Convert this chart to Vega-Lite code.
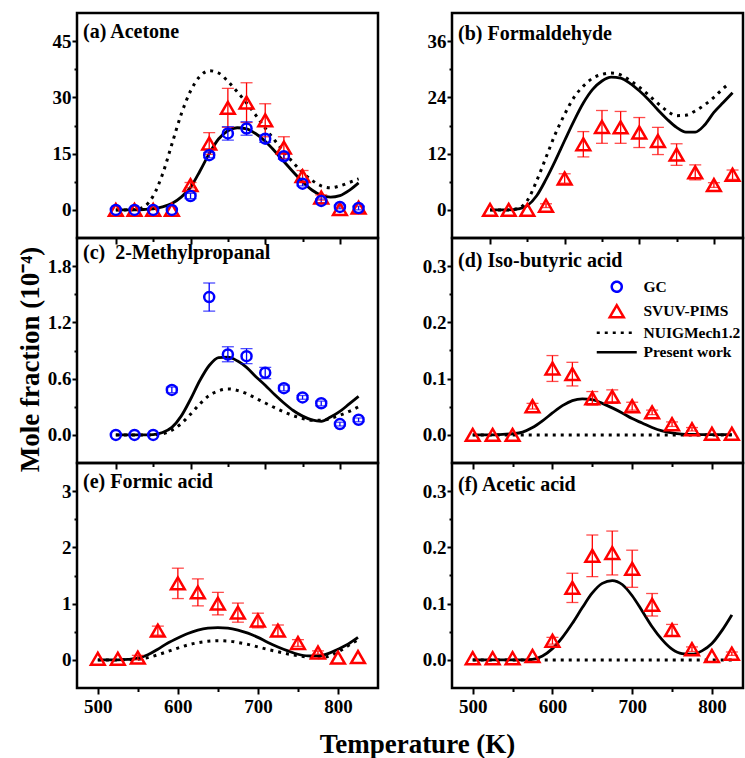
{
"$schema": "https://vega.github.io/schema/vega-lite/v6.json",
"background": "white",
"padding": {"left": 14, "top": 11, "right": 0, "bottom": 0},
"config": {
  "font": "Liberation Serif",
  "view": {"stroke": "black", "strokeWidth": 2.5},
  "axis": {"domain": false, "grid": false, "tickColor": "black", "tickWidth": 2, "labelFont": "Liberation Serif", "labelFontSize": 19, "labelFontWeight": "bold", "labelColor": "black", "labelPadding": 1, "labelFlush": false, "labelOverlap": false, "titleFont": "Liberation Serif", "titleFontSize": 27, "titleFontWeight": "bold", "titleColor": "black"},
  "axisX": {"labelPadding": 3},
  "title": {"font": "Liberation Serif", "fontSize": 20, "fontWeight": "bold", "color": "black", "anchor": "start", "frame": "group", "offset": 0, "dx": 6, "baseline": "alphabetic"},
  "legend": {"labelLimit": 300}
},
"datasets": {
  "leg": [{"s": "GC"}, {"s": "SVUV-PIMS"}, {"s": "NUIGMech1.2"}, {"s": "Present work"}],
  "exp": [
    {"p":"a","k":"S","T":500,"v":0},{"p":"a","k":"S","T":525,"v":0},{"p":"a","k":"S","T":550,"v":0},{"p":"a","k":"S","T":575,"v":0},
    {"p":"a","k":"S","T":600,"v":6.6,"lo":5.9,"hi":7.3},{"p":"a","k":"S","T":625,"v":17.7,"lo":14.8,"hi":20.6},
    {"p":"a","k":"S","T":650,"v":27.2,"lo":22.0,"hi":32.4},{"p":"a","k":"S","T":675,"v":28.6,"lo":23.3,"hi":33.9},
    {"p":"a","k":"S","T":700,"v":23.9,"lo":19.5,"hi":28.3},{"p":"a","k":"S","T":725,"v":16.6,"lo":13.7,"hi":19.5},
    {"p":"a","k":"S","T":750,"v":9.0,"lo":7.5,"hi":10.5},{"p":"a","k":"S","T":775,"v":3.3,"lo":2.6,"hi":4.0},
    {"p":"a","k":"S","T":800,"v":0.2},{"p":"a","k":"S","T":825,"v":0.6},
    {"p":"a","k":"G","T":500,"v":0},{"p":"a","k":"G","T":525,"v":0},{"p":"a","k":"G","T":550,"v":0},{"p":"a","k":"G","T":575,"v":0},
    {"p":"a","k":"G","T":600,"v":3.7,"lo":3.0,"hi":4.4},{"p":"a","k":"G","T":625,"v":14.6,"lo":13.9,"hi":15.3},
    {"p":"a","k":"G","T":650,"v":20.4,"lo":18.6,"hi":22.2},{"p":"a","k":"G","T":675,"v":21.7,"lo":19.9,"hi":23.5},
    {"p":"a","k":"G","T":700,"v":19.0,"lo":18.0,"hi":20.0},{"p":"a","k":"G","T":725,"v":14.3,"lo":13.5,"hi":15.1},
    {"p":"a","k":"G","T":750,"v":7.0,"lo":6.4,"hi":7.6},{"p":"a","k":"G","T":775,"v":2.4,"lo":1.9,"hi":2.9},
    {"p":"a","k":"G","T":800,"v":0.8,"lo":0.3,"hi":1.3},{"p":"a","k":"G","T":825,"v":0.5,"lo":0.0,"hi":1.0},

    {"p":"b","k":"S","T":500,"v":0},{"p":"b","k":"S","T":525,"v":0},{"p":"b","k":"S","T":550,"v":0},
    {"p":"b","k":"S","T":575,"v":0.9,"lo":0.5,"hi":1.3},{"p":"b","k":"S","T":600,"v":6.7,"lo":5.7,"hi":7.7},
    {"p":"b","k":"S","T":625,"v":14.0,"lo":11.3,"hi":16.7},{"p":"b","k":"S","T":650,"v":17.7,"lo":14.2,"hi":21.2},
    {"p":"b","k":"S","T":675,"v":17.6,"lo":14.2,"hi":21.0},{"p":"b","k":"S","T":700,"v":16.5,"lo":13.3,"hi":19.7},
    {"p":"b","k":"S","T":725,"v":14.7,"lo":11.8,"hi":17.6},{"p":"b","k":"S","T":750,"v":11.8,"lo":9.5,"hi":14.1},
    {"p":"b","k":"S","T":775,"v":8.0,"lo":6.4,"hi":9.6},{"p":"b","k":"S","T":800,"v":5.3,"lo":4.8,"hi":5.8},
    {"p":"b","k":"S","T":825,"v":7.5,"lo":6.5,"hi":8.5},

    {"p":"c","k":"G","T":500,"v":0},{"p":"c","k":"G","T":525,"v":0},{"p":"c","k":"G","T":550,"v":0},
    {"p":"c","k":"G","T":575,"v":0.48,"lo":0.45,"hi":0.51},{"p":"c","k":"G","T":625,"v":1.47,"lo":1.32,"hi":1.62},
    {"p":"c","k":"G","T":650,"v":0.857,"lo":0.78,"hi":0.94},{"p":"c","k":"G","T":675,"v":0.84,"lo":0.76,"hi":0.92},
    {"p":"c","k":"G","T":700,"v":0.663,"lo":0.6,"hi":0.72},{"p":"c","k":"G","T":725,"v":0.498,"lo":0.47,"hi":0.53},
    {"p":"c","k":"G","T":750,"v":0.40,"lo":0.38,"hi":0.42},{"p":"c","k":"G","T":775,"v":0.337,"lo":0.31,"hi":0.36},
    {"p":"c","k":"G","T":800,"v":0.115,"lo":0.095,"hi":0.135},{"p":"c","k":"G","T":825,"v":0.161,"lo":0.14,"hi":0.18},

    {"p":"d","k":"S","T":500,"v":0},{"p":"d","k":"S","T":525,"v":0},{"p":"d","k":"S","T":550,"v":0},
    {"p":"d","k":"S","T":575,"v":0.051,"lo":0.046,"hi":0.056},{"p":"d","k":"S","T":600,"v":0.118,"lo":0.095,"hi":0.141},
    {"p":"d","k":"S","T":625,"v":0.108,"lo":0.087,"hi":0.129},{"p":"d","k":"S","T":650,"v":0.065,"lo":0.053,"hi":0.077},
    {"p":"d","k":"S","T":675,"v":0.068,"lo":0.056,"hi":0.08},{"p":"d","k":"S","T":700,"v":0.051,"lo":0.044,"hi":0.058},
    {"p":"d","k":"S","T":725,"v":0.04,"lo":0.036,"hi":0.044},{"p":"d","k":"S","T":750,"v":0.019,"lo":0.015,"hi":0.023},
    {"p":"d","k":"S","T":775,"v":0.01,"lo":0.007,"hi":0.013},{"p":"d","k":"S","T":800,"v":0.002},{"p":"d","k":"S","T":825,"v":0.002},

    {"p":"e","k":"S","T":500,"v":0.02},{"p":"e","k":"S","T":525,"v":0.02},{"p":"e","k":"S","T":550,"v":0.04,"lo":0.0,"hi":0.08},
    {"p":"e","k":"S","T":575,"v":0.52,"lo":0.44,"hi":0.6},{"p":"e","k":"S","T":600,"v":1.36,"lo":1.09,"hi":1.63},
    {"p":"e","k":"S","T":625,"v":1.2,"lo":0.96,"hi":1.44},{"p":"e","k":"S","T":650,"v":1.0,"lo":0.8,"hi":1.2},
    {"p":"e","k":"S","T":675,"v":0.84,"lo":0.67,"hi":1.01},{"p":"e","k":"S","T":700,"v":0.7,"lo":0.57,"hi":0.83},
    {"p":"e","k":"S","T":725,"v":0.52,"lo":0.42,"hi":0.62},{"p":"e","k":"S","T":750,"v":0.3,"lo":0.24,"hi":0.36},
    {"p":"e","k":"S","T":775,"v":0.13,"lo":0.1,"hi":0.16},{"p":"e","k":"S","T":800,"v":0.04},{"p":"e","k":"S","T":825,"v":0.05},

    {"p":"f","k":"S","T":500,"v":0.003},{"p":"f","k":"S","T":525,"v":0.003},{"p":"f","k":"S","T":550,"v":0.003},
    {"p":"f","k":"S","T":575,"v":0.007},{"p":"f","k":"S","T":600,"v":0.034,"lo":0.028,"hi":0.04},
    {"p":"f","k":"S","T":625,"v":0.128,"lo":0.102,"hi":0.154},{"p":"f","k":"S","T":650,"v":0.185,"lo":0.148,"hi":0.222},
    {"p":"f","k":"S","T":675,"v":0.19,"lo":0.151,"hi":0.229},{"p":"f","k":"S","T":700,"v":0.162,"lo":0.129,"hi":0.195},
    {"p":"f","k":"S","T":725,"v":0.098,"lo":0.078,"hi":0.118},{"p":"f","k":"S","T":750,"v":0.053,"lo":0.043,"hi":0.063},
    {"p":"f","k":"S","T":775,"v":0.019,"lo":0.015,"hi":0.023},{"p":"f","k":"S","T":800,"v":0.007},
    {"p":"f","k":"S","T":825,"v":0.011,"lo":0.008,"hi":0.014}
  ],
  "lines": [
    {"p":"a","m":"P","T":500,"v":0},{"p":"a","m":"P","T":512.5,"v":0},{"p":"a","m":"P","T":525,"v":0},{"p":"a","m":"P","T":537.5,"v":0.1},
    {"p":"a","m":"P","T":550,"v":0.3},{"p":"a","m":"P","T":562.5,"v":0.8},{"p":"a","m":"P","T":575,"v":1.7},{"p":"a","m":"P","T":587.5,"v":3.4},
    {"p":"a","m":"P","T":600,"v":6.0},{"p":"a","m":"P","T":612.5,"v":10.3},{"p":"a","m":"P","T":625,"v":15.0},{"p":"a","m":"P","T":637.5,"v":18.9},
    {"p":"a","m":"P","T":650,"v":21.1},{"p":"a","m":"P","T":662.5,"v":21.9},{"p":"a","m":"P","T":675,"v":21.6},{"p":"a","m":"P","T":687.5,"v":20.3},
    {"p":"a","m":"P","T":700,"v":18.3},{"p":"a","m":"P","T":712.5,"v":15.7},{"p":"a","m":"P","T":725,"v":12.9},{"p":"a","m":"P","T":737.5,"v":10.1},
    {"p":"a","m":"P","T":750,"v":7.5},{"p":"a","m":"P","T":762.5,"v":5.3},{"p":"a","m":"P","T":775,"v":3.9},{"p":"a","m":"P","T":787.5,"v":3.4},
    {"p":"a","m":"P","T":800,"v":3.8},{"p":"a","m":"P","T":812.5,"v":5.2},{"p":"a","m":"P","T":825,"v":7.2},

    {"p":"a","m":"N","T":500,"v":0},{"p":"a","m":"N","T":512.5,"v":0},{"p":"a","m":"N","T":525,"v":0.1},{"p":"a","m":"N","T":537.5,"v":0.8},
    {"p":"a","m":"N","T":550,"v":3.7},{"p":"a","m":"N","T":562.5,"v":9.5},{"p":"a","m":"N","T":575,"v":17.5},{"p":"a","m":"N","T":587.5,"v":25.5},
    {"p":"a","m":"N","T":600,"v":31.7},{"p":"a","m":"N","T":612.5,"v":35.6},{"p":"a","m":"N","T":625,"v":37.1},{"p":"a","m":"N","T":637.5,"v":36.5},
    {"p":"a","m":"N","T":650,"v":34.3},{"p":"a","m":"N","T":662.5,"v":31.5},{"p":"a","m":"N","T":675,"v":28.5},{"p":"a","m":"N","T":687.5,"v":25.2},
    {"p":"a","m":"N","T":700,"v":21.8},{"p":"a","m":"N","T":712.5,"v":18.6},{"p":"a","m":"N","T":725,"v":15.5},{"p":"a","m":"N","T":737.5,"v":12.6},
    {"p":"a","m":"N","T":750,"v":10.0},{"p":"a","m":"N","T":762.5,"v":7.9},{"p":"a","m":"N","T":775,"v":6.4},{"p":"a","m":"N","T":787.5,"v":5.9},
    {"p":"a","m":"N","T":800,"v":6.4},{"p":"a","m":"N","T":812.5,"v":7.3},{"p":"a","m":"N","T":825,"v":8.3},

    {"p":"b","m":"P","T":500,"v":0},{"p":"b","m":"P","T":512.5,"v":0},{"p":"b","m":"P","T":525,"v":0},{"p":"b","m":"P","T":537.5,"v":0.2},
    {"p":"b","m":"P","T":550,"v":0.9},{"p":"b","m":"P","T":562.5,"v":3.0},{"p":"b","m":"P","T":575,"v":6.5},{"p":"b","m":"P","T":587.5,"v":10.5},
    {"p":"b","m":"P","T":600,"v":14.8},{"p":"b","m":"P","T":612.5,"v":19.0},{"p":"b","m":"P","T":625,"v":22.8},{"p":"b","m":"P","T":637.5,"v":25.7},
    {"p":"b","m":"P","T":650,"v":27.5},{"p":"b","m":"P","T":662.5,"v":28.3},{"p":"b","m":"P","T":675,"v":28.1},{"p":"b","m":"P","T":687.5,"v":27.0},
    {"p":"b","m":"P","T":700,"v":25.4},{"p":"b","m":"P","T":712.5,"v":23.5},{"p":"b","m":"P","T":725,"v":21.3},{"p":"b","m":"P","T":737.5,"v":19.3},
    {"p":"b","m":"P","T":750,"v":17.6},{"p":"b","m":"P","T":762.5,"v":16.6},{"p":"b","m":"P","T":775,"v":16.6},{"p":"b","m":"P","T":787.5,"v":18.1},
    {"p":"b","m":"P","T":800,"v":20.8},{"p":"b","m":"P","T":812.5,"v":22.9},{"p":"b","m":"P","T":825,"v":25.0},

    {"p":"b","m":"N","T":500,"v":0},{"p":"b","m":"N","T":512.5,"v":0},{"p":"b","m":"N","T":525,"v":0},{"p":"b","m":"N","T":537.5,"v":0.3},
    {"p":"b","m":"N","T":550,"v":2.0},{"p":"b","m":"N","T":562.5,"v":6.2},{"p":"b","m":"N","T":575,"v":11.2},{"p":"b","m":"N","T":587.5,"v":16.2},
    {"p":"b","m":"N","T":600,"v":20.4},{"p":"b","m":"N","T":612.5,"v":24.0},{"p":"b","m":"N","T":625,"v":26.4},{"p":"b","m":"N","T":637.5,"v":28.1},
    {"p":"b","m":"N","T":650,"v":28.9},{"p":"b","m":"N","T":662.5,"v":29.2},{"p":"b","m":"N","T":675,"v":28.8},{"p":"b","m":"N","T":687.5,"v":27.6},
    {"p":"b","m":"N","T":700,"v":26.2},{"p":"b","m":"N","T":712.5,"v":24.5},{"p":"b","m":"N","T":725,"v":22.7},{"p":"b","m":"N","T":737.5,"v":21.1},
    {"p":"b","m":"N","T":750,"v":20.1},{"p":"b","m":"N","T":762.5,"v":20.2},{"p":"b","m":"N","T":775,"v":21.1},{"p":"b","m":"N","T":787.5,"v":22.4},
    {"p":"b","m":"N","T":800,"v":24.0},{"p":"b","m":"N","T":812.5,"v":25.9},{"p":"b","m":"N","T":820,"v":26.9},

    {"p":"c","m":"P","T":500,"v":0},{"p":"c","m":"P","T":512.5,"v":0},{"p":"c","m":"P","T":525,"v":0},{"p":"c","m":"P","T":537.5,"v":0},
    {"p":"c","m":"P","T":550,"v":0.003},{"p":"c","m":"P","T":562.5,"v":0.025},{"p":"c","m":"P","T":575,"v":0.08},{"p":"c","m":"P","T":587.5,"v":0.2},
    {"p":"c","m":"P","T":600,"v":0.38},{"p":"c","m":"P","T":612.5,"v":0.58},{"p":"c","m":"P","T":625,"v":0.74},{"p":"c","m":"P","T":637.5,"v":0.825},
    {"p":"c","m":"P","T":650,"v":0.83},{"p":"c","m":"P","T":662.5,"v":0.79},{"p":"c","m":"P","T":675,"v":0.72},{"p":"c","m":"P","T":687.5,"v":0.62},
    {"p":"c","m":"P","T":700,"v":0.53},{"p":"c","m":"P","T":712.5,"v":0.43},{"p":"c","m":"P","T":725,"v":0.34},{"p":"c","m":"P","T":737.5,"v":0.26},
    {"p":"c","m":"P","T":750,"v":0.2},{"p":"c","m":"P","T":762.5,"v":0.16},{"p":"c","m":"P","T":775,"v":0.145},{"p":"c","m":"P","T":787.5,"v":0.19},
    {"p":"c","m":"P","T":800,"v":0.25},{"p":"c","m":"P","T":812.5,"v":0.33},{"p":"c","m":"P","T":825,"v":0.41},

    {"p":"c","m":"N","T":500,"v":0},{"p":"c","m":"N","T":512.5,"v":0},{"p":"c","m":"N","T":525,"v":0},{"p":"c","m":"N","T":537.5,"v":0},
    {"p":"c","m":"N","T":550,"v":0},{"p":"c","m":"N","T":562.5,"v":0.01},{"p":"c","m":"N","T":575,"v":0.05},{"p":"c","m":"N","T":587.5,"v":0.12},
    {"p":"c","m":"N","T":600,"v":0.22},{"p":"c","m":"N","T":612.5,"v":0.33},{"p":"c","m":"N","T":625,"v":0.42},{"p":"c","m":"N","T":637.5,"v":0.47},
    {"p":"c","m":"N","T":650,"v":0.49},{"p":"c","m":"N","T":662.5,"v":0.475},{"p":"c","m":"N","T":675,"v":0.44},{"p":"c","m":"N","T":687.5,"v":0.39},
    {"p":"c","m":"N","T":700,"v":0.34},{"p":"c","m":"N","T":712.5,"v":0.29},{"p":"c","m":"N","T":725,"v":0.245},{"p":"c","m":"N","T":737.5,"v":0.205},
    {"p":"c","m":"N","T":750,"v":0.175},{"p":"c","m":"N","T":762.5,"v":0.155},{"p":"c","m":"N","T":775,"v":0.155},{"p":"c","m":"N","T":787.5,"v":0.175},
    {"p":"c","m":"N","T":800,"v":0.21},{"p":"c","m":"N","T":812.5,"v":0.25},{"p":"c","m":"N","T":825,"v":0.3},

    {"p":"d","m":"P","T":500,"v":0},{"p":"d","m":"P","T":512.5,"v":0},{"p":"d","m":"P","T":525,"v":0},{"p":"d","m":"P","T":537.5,"v":0.001},
    {"p":"d","m":"P","T":550,"v":0.002},{"p":"d","m":"P","T":562.5,"v":0.005},{"p":"d","m":"P","T":575,"v":0.013},{"p":"d","m":"P","T":587.5,"v":0.025},
    {"p":"d","m":"P","T":600,"v":0.039},{"p":"d","m":"P","T":612.5,"v":0.052},{"p":"d","m":"P","T":625,"v":0.061},{"p":"d","m":"P","T":637.5,"v":0.064},
    {"p":"d","m":"P","T":650,"v":0.0625},{"p":"d","m":"P","T":662.5,"v":0.056},{"p":"d","m":"P","T":675,"v":0.048},{"p":"d","m":"P","T":687.5,"v":0.039},
    {"p":"d","m":"P","T":700,"v":0.029},{"p":"d","m":"P","T":712.5,"v":0.021},{"p":"d","m":"P","T":725,"v":0.013},{"p":"d","m":"P","T":737.5,"v":0.007},
    {"p":"d","m":"P","T":750,"v":0.0035},{"p":"d","m":"P","T":762.5,"v":0.0015},{"p":"d","m":"P","T":775,"v":0.0008},{"p":"d","m":"P","T":787.5,"v":0.0005},
    {"p":"d","m":"P","T":800,"v":0.0004},{"p":"d","m":"P","T":812.5,"v":0.0003},{"p":"d","m":"P","T":825,"v":0.0003},

    {"p":"d","m":"N","T":500,"v":0},{"p":"d","m":"N","T":600,"v":0},{"p":"d","m":"N","T":700,"v":0},{"p":"d","m":"N","T":825,"v":0},

    {"p":"e","m":"P","T":500,"v":0},{"p":"e","m":"P","T":512.5,"v":0},{"p":"e","m":"P","T":525,"v":0},{"p":"e","m":"P","T":537.5,"v":0.008},
    {"p":"e","m":"P","T":550,"v":0.03},{"p":"e","m":"P","T":562.5,"v":0.09},{"p":"e","m":"P","T":575,"v":0.19},{"p":"e","m":"P","T":587.5,"v":0.3},
    {"p":"e","m":"P","T":600,"v":0.39},{"p":"e","m":"P","T":612.5,"v":0.47},{"p":"e","m":"P","T":625,"v":0.53},{"p":"e","m":"P","T":637.5,"v":0.565},
    {"p":"e","m":"P","T":650,"v":0.575},{"p":"e","m":"P","T":662.5,"v":0.565},{"p":"e","m":"P","T":675,"v":0.53},{"p":"e","m":"P","T":687.5,"v":0.475},
    {"p":"e","m":"P","T":700,"v":0.4},{"p":"e","m":"P","T":712.5,"v":0.31},{"p":"e","m":"P","T":725,"v":0.23},{"p":"e","m":"P","T":737.5,"v":0.16},
    {"p":"e","m":"P","T":750,"v":0.1},{"p":"e","m":"P","T":762.5,"v":0.07},{"p":"e","m":"P","T":775,"v":0.07},{"p":"e","m":"P","T":787.5,"v":0.11},
    {"p":"e","m":"P","T":800,"v":0.19},{"p":"e","m":"P","T":812.5,"v":0.28},{"p":"e","m":"P","T":825,"v":0.4},

    {"p":"e","m":"N","T":500,"v":0},{"p":"e","m":"N","T":512.5,"v":0},{"p":"e","m":"N","T":525,"v":0},{"p":"e","m":"N","T":537.5,"v":0.003},
    {"p":"e","m":"N","T":550,"v":0.012},{"p":"e","m":"N","T":562.5,"v":0.04},{"p":"e","m":"N","T":575,"v":0.09},{"p":"e","m":"N","T":587.5,"v":0.15},
    {"p":"e","m":"N","T":600,"v":0.21},{"p":"e","m":"N","T":612.5,"v":0.265},{"p":"e","m":"N","T":625,"v":0.305},{"p":"e","m":"N","T":637.5,"v":0.33},
    {"p":"e","m":"N","T":650,"v":0.34},{"p":"e","m":"N","T":662.5,"v":0.335},{"p":"e","m":"N","T":675,"v":0.31},{"p":"e","m":"N","T":687.5,"v":0.275},
    {"p":"e","m":"N","T":700,"v":0.23},{"p":"e","m":"N","T":712.5,"v":0.185},{"p":"e","m":"N","T":725,"v":0.145},{"p":"e","m":"N","T":737.5,"v":0.105},
    {"p":"e","m":"N","T":750,"v":0.075},{"p":"e","m":"N","T":762.5,"v":0.05},{"p":"e","m":"N","T":775,"v":0.04},{"p":"e","m":"N","T":787.5,"v":0.06},
    {"p":"e","m":"N","T":800,"v":0.14},{"p":"e","m":"N","T":812.5,"v":0.25},{"p":"e","m":"N","T":825,"v":0.36},

    {"p":"f","m":"P","T":500,"v":0},{"p":"f","m":"P","T":512.5,"v":0},{"p":"f","m":"P","T":525,"v":0},{"p":"f","m":"P","T":537.5,"v":0},
    {"p":"f","m":"P","T":550,"v":0},{"p":"f","m":"P","T":562.5,"v":0},{"p":"f","m":"P","T":575,"v":0.001},{"p":"f","m":"P","T":587.5,"v":0.007},
    {"p":"f","m":"P","T":600,"v":0.02},{"p":"f","m":"P","T":612.5,"v":0.04},{"p":"f","m":"P","T":625,"v":0.065},{"p":"f","m":"P","T":637.5,"v":0.093},
    {"p":"f","m":"P","T":650,"v":0.119},{"p":"f","m":"P","T":662.5,"v":0.136},{"p":"f","m":"P","T":675,"v":0.141},{"p":"f","m":"P","T":687.5,"v":0.134},
    {"p":"f","m":"P","T":700,"v":0.114},{"p":"f","m":"P","T":712.5,"v":0.087},{"p":"f","m":"P","T":725,"v":0.059},{"p":"f","m":"P","T":737.5,"v":0.036},
    {"p":"f","m":"P","T":750,"v":0.019},{"p":"f","m":"P","T":762.5,"v":0.011},{"p":"f","m":"P","T":775,"v":0.01},{"p":"f","m":"P","T":787.5,"v":0.016},
    {"p":"f","m":"P","T":800,"v":0.029},{"p":"f","m":"P","T":812.5,"v":0.052},{"p":"f","m":"P","T":825,"v":0.08},

    {"p":"f","m":"N","T":500,"v":0},{"p":"f","m":"N","T":600,"v":0},{"p":"f","m":"N","T":700,"v":0},{"p":"f","m":"N","T":825,"v":0}
  ]
},
"columns": 2,
"spacing": {"row": 0, "column": 74},
"bounds": "flush",
"align": "each",
"resolve": {"scale": {"color": "independent", "shape": "independent", "strokeDash": "independent"}},
"concat": [
{
  "width": 301, "height": 225,
  "title": {"text": "(a) Acetone", "dy": 33},
  "resolve": {"axis": {"x": "independent", "y": "independent"}},
  "encoding": {
    "x": {"field": "T", "type": "quantitative", "scale": {"domain": [448, 851], "nice": false, "zero": false}, "axis": null},
    "y": {"field": "v", "type": "quantitative", "scale": {"domain": [-7.5, 52.5], "nice": false, "zero": false}, "axis": null}
  },
  "layer": [
    {"data": {"name": "lines"}, "transform": [{"filter": "datum.p=='a' && datum.m=='N'"}],
     "mark": {"type": "line", "interpolate": "monotone", "color": "black", "strokeWidth": 3, "strokeDash": [3, 5]},
     "encoding": {
       "x": {"field": "T", "type": "quantitative", "scale": {"domain": [448, 851], "nice": false, "zero": false}, "axis": {"values": [550, 650, 750], "labels": false, "tickSize": 3.5, "orient": "bottom", "title": null}},
       "y": {"field": "v", "type": "quantitative", "scale": {"domain": [-7.5, 52.5], "nice": false, "zero": false}, "axis": {"values": [7.5, 22.5, 37.5], "labels": false, "tickSize": 3, "orient": "left", "title": null}}}},
    {"data": {"name": "lines"}, "transform": [{"filter": "datum.p=='a' && datum.m=='P'"}],
     "mark": {"type": "line", "interpolate": "monotone", "color": "black", "strokeWidth": 2.8},
     "encoding": {
       "x": {"field": "T", "type": "quantitative", "scale": {"domain": [448, 851], "nice": false, "zero": false}, "axis": {"values": [500, 600, 700, 800], "labels": false, "tickSize": 6, "orient": "bottom", "title": null}},
       "y": {"field": "v", "type": "quantitative", "scale": {"domain": [-7.5, 52.5], "nice": false, "zero": false}, "axis": {"values": [0, 15, 30, 45], "format": "d", "tickSize": 5, "orient": "left", "title": null}}}},
    {"data": {"name": "exp"}, "transform": [{"filter": "datum.p=='a' && isValid(datum.lo)"}],
     "mark": {"type": "rule", "strokeWidth": 1.3},
     "encoding": {"y": {"field": "lo", "type": "quantitative", "scale": {"domain": [-7.5, 52.5], "nice": false, "zero": false}, "axis": null}, "y2": {"field": "hi"},
       "color": {"condition": {"test": "datum.k=='G'", "value": "#0000ff"}, "value": "#ff0000"}}},
    {"data": {"name": "exp"}, "transform": [{"filter": "datum.p=='a' && isValid(datum.lo)"}],
     "mark": {"type": "tick", "orient": "horizontal", "size": 12, "thickness": 1.3},
     "encoding": {"y": {"field": "lo", "type": "quantitative", "scale": {"domain": [-7.5, 52.5], "nice": false, "zero": false}, "axis": null},
       "color": {"condition": {"test": "datum.k=='G'", "value": "#0000ff"}, "value": "#ff0000"}}},
    {"data": {"name": "exp"}, "transform": [{"filter": "datum.p=='a' && isValid(datum.hi)"}],
     "mark": {"type": "tick", "orient": "horizontal", "size": 12, "thickness": 1.3},
     "encoding": {"y": {"field": "hi", "type": "quantitative", "scale": {"domain": [-7.5, 52.5], "nice": false, "zero": false}, "axis": null},
       "color": {"condition": {"test": "datum.k=='G'", "value": "#0000ff"}, "value": "#ff0000"}}},
    {"data": {"name": "exp"}, "transform": [{"filter": "datum.p=='a'"}],
     "mark": {"type": "point", "filled": false, "strokeWidth": 2.5, "opacity": 1},
     "encoding": {
       "color": {"condition": {"test": "datum.k=='G'", "value": "#0000ff"}, "value": "#ff0000"},
       "shape": {"condition": {"test": "datum.k=='G'", "value": "circle"}, "value": "triangle-up"},
       "size": {"condition": {"test": "datum.k=='G'", "value": 100}, "value": 190}}}
  ]
},
{
  "width": 291, "height": 225,
  "title": {"text": "(b) Formaldehyde", "dy": 35},
  "resolve": {"axis": {"x": "independent", "y": "independent"}},
  "encoding": {
    "x": {"field": "T", "type": "quantitative", "scale": {"domain": [449, 839], "nice": false, "zero": false}, "axis": null},
    "y": {"field": "v", "type": "quantitative", "scale": {"domain": [-6, 42], "nice": false, "zero": false}, "axis": null}
  },
  "layer": [
    {"data": {"name": "lines"}, "transform": [{"filter": "datum.p=='b' && datum.m=='N'"}],
     "mark": {"type": "line", "interpolate": "monotone", "color": "black", "strokeWidth": 3, "strokeDash": [3, 5]},
     "encoding": {
       "x": {"field": "T", "type": "quantitative", "scale": {"domain": [449, 839], "nice": false, "zero": false}, "axis": {"values": [550, 650, 750], "labels": false, "tickSize": 3.5, "orient": "bottom", "title": null}},
       "y": {"field": "v", "type": "quantitative", "scale": {"domain": [-6, 42], "nice": false, "zero": false}, "axis": {"values": [6, 18, 30], "labels": false, "tickSize": 3, "orient": "left", "title": null}}}},
    {"data": {"name": "lines"}, "transform": [{"filter": "datum.p=='b' && datum.m=='P'"}],
     "mark": {"type": "line", "interpolate": "monotone", "color": "black", "strokeWidth": 2.8},
     "encoding": {
       "x": {"field": "T", "type": "quantitative", "scale": {"domain": [449, 839], "nice": false, "zero": false}, "axis": {"values": [500, 600, 700, 800], "labels": false, "tickSize": 6, "orient": "bottom", "title": null}},
       "y": {"field": "v", "type": "quantitative", "scale": {"domain": [-6, 42], "nice": false, "zero": false}, "axis": {"values": [0, 12, 24, 36], "format": "d", "tickSize": 5, "orient": "left", "title": null}}}},
    {"data": {"name": "exp"}, "transform": [{"filter": "datum.p=='b' && isValid(datum.lo)"}],
     "mark": {"type": "rule", "strokeWidth": 1.3},
     "encoding": {"y": {"field": "lo", "type": "quantitative", "scale": {"domain": [-6, 42], "nice": false, "zero": false}, "axis": null}, "y2": {"field": "hi"},
       "color": {"condition": {"test": "datum.k=='G'", "value": "#0000ff"}, "value": "#ff0000"}}},
    {"data": {"name": "exp"}, "transform": [{"filter": "datum.p=='b' && isValid(datum.lo)"}],
     "mark": {"type": "tick", "orient": "horizontal", "size": 12, "thickness": 1.3},
     "encoding": {"y": {"field": "lo", "type": "quantitative", "scale": {"domain": [-6, 42], "nice": false, "zero": false}, "axis": null},
       "color": {"condition": {"test": "datum.k=='G'", "value": "#0000ff"}, "value": "#ff0000"}}},
    {"data": {"name": "exp"}, "transform": [{"filter": "datum.p=='b' && isValid(datum.hi)"}],
     "mark": {"type": "tick", "orient": "horizontal", "size": 12, "thickness": 1.3},
     "encoding": {"y": {"field": "hi", "type": "quantitative", "scale": {"domain": [-6, 42], "nice": false, "zero": false}, "axis": null},
       "color": {"condition": {"test": "datum.k=='G'", "value": "#0000ff"}, "value": "#ff0000"}}},
    {"data": {"name": "exp"}, "transform": [{"filter": "datum.p=='b'"}],
     "mark": {"type": "point", "filled": false, "strokeWidth": 2.5, "opacity": 1},
     "encoding": {
       "color": {"condition": {"test": "datum.k=='G'", "value": "#0000ff"}, "value": "#ff0000"},
       "shape": {"condition": {"test": "datum.k=='G'", "value": "circle"}, "value": "triangle-up"},
       "size": {"condition": {"test": "datum.k=='G'", "value": 100}, "value": 190}}}
  ]
},
{
  "width": 301, "height": 225,
  "title": {"text": "(c)\u00a0 2-Methylpropanal", "dy": 29},
  "resolve": {"axis": {"x": "independent", "y": "independent"}},
  "encoding": {
    "x": {"field": "T", "type": "quantitative", "scale": {"domain": [448, 851], "nice": false, "zero": false}, "axis": null},
    "y": {"field": "v", "type": "quantitative", "scale": {"domain": [-0.3, 2.1], "nice": false, "zero": false}, "axis": null}
  },
  "layer": [
    {"data": {"name": "lines"}, "transform": [{"filter": "datum.p=='c' && datum.m=='N'"}],
     "mark": {"type": "line", "interpolate": "monotone", "color": "black", "strokeWidth": 3, "strokeDash": [3, 5]},
     "encoding": {
       "x": {"field": "T", "type": "quantitative", "scale": {"domain": [448, 851], "nice": false, "zero": false}, "axis": {"values": [550, 650, 750], "labels": false, "tickSize": 3.5, "orient": "bottom", "title": null}},
       "y": {"field": "v", "type": "quantitative", "scale": {"domain": [-0.3, 2.1], "nice": false, "zero": false}, "axis": {"values": [0.3, 0.9, 1.5], "labels": false, "tickSize": 3, "orient": "left", "title": null}}}},
    {"data": {"name": "lines"}, "transform": [{"filter": "datum.p=='c' && datum.m=='P'"}],
     "mark": {"type": "line", "interpolate": "monotone", "color": "black", "strokeWidth": 2.8},
     "encoding": {
       "x": {"field": "T", "type": "quantitative", "scale": {"domain": [448, 851], "nice": false, "zero": false}, "axis": {"values": [500, 600, 700, 800], "labels": false, "tickSize": 6, "orient": "bottom", "title": null}},
       "y": {"field": "v", "type": "quantitative", "scale": {"domain": [-0.3, 2.1], "nice": false, "zero": false}, "axis": {"values": [0, 0.6, 1.2, 1.8], "format": ".1f", "tickSize": 5, "orient": "left", "title": "Mole fraction (10⁻⁴)", "titleX": -39, "titleY": 121, "titleAlign": "center", "titleBaseline": "alphabetic", "titleAngle": 270}}}},
    {"data": {"name": "exp"}, "transform": [{"filter": "datum.p=='c' && isValid(datum.lo)"}],
     "mark": {"type": "rule", "strokeWidth": 1.3},
     "encoding": {"y": {"field": "lo", "type": "quantitative", "scale": {"domain": [-0.3, 2.1], "nice": false, "zero": false}, "axis": null}, "y2": {"field": "hi"},
       "color": {"condition": {"test": "datum.k=='G'", "value": "#0000ff"}, "value": "#ff0000"}}},
    {"data": {"name": "exp"}, "transform": [{"filter": "datum.p=='c' && isValid(datum.lo)"}],
     "mark": {"type": "tick", "orient": "horizontal", "size": 12, "thickness": 1.3},
     "encoding": {"y": {"field": "lo", "type": "quantitative", "scale": {"domain": [-0.3, 2.1], "nice": false, "zero": false}, "axis": null},
       "color": {"condition": {"test": "datum.k=='G'", "value": "#0000ff"}, "value": "#ff0000"}}},
    {"data": {"name": "exp"}, "transform": [{"filter": "datum.p=='c' && isValid(datum.hi)"}],
     "mark": {"type": "tick", "orient": "horizontal", "size": 12, "thickness": 1.3},
     "encoding": {"y": {"field": "hi", "type": "quantitative", "scale": {"domain": [-0.3, 2.1], "nice": false, "zero": false}, "axis": null},
       "color": {"condition": {"test": "datum.k=='G'", "value": "#0000ff"}, "value": "#ff0000"}}},
    {"data": {"name": "exp"}, "transform": [{"filter": "datum.p=='c'"}],
     "mark": {"type": "point", "filled": false, "strokeWidth": 2.5, "opacity": 1},
     "encoding": {
       "color": {"condition": {"test": "datum.k=='G'", "value": "#0000ff"}, "value": "#ff0000"},
       "shape": {"condition": {"test": "datum.k=='G'", "value": "circle"}, "value": "triangle-up"},
       "size": {"condition": {"test": "datum.k=='G'", "value": 100}, "value": 190}}}
  ]
},
{
  "width": 291, "height": 225,
  "title": {"text": "(d) Iso-butyric acid", "dy": 37},
  "resolve": {"axis": {"x": "independent", "y": "independent"}},
  "encoding": {
    "x": {"field": "T", "type": "quantitative", "scale": {"domain": [474, 839], "nice": false, "zero": false}, "axis": null},
    "y": {"field": "v", "type": "quantitative", "scale": {"domain": [-0.05, 0.35], "nice": false, "zero": false}, "axis": null}
  },
  "layer": [
    {"data": {"name": "lines"}, "transform": [{"filter": "datum.p=='d' && datum.m=='N'"}],
     "mark": {"type": "line", "interpolate": "monotone", "color": "black", "strokeWidth": 3, "strokeDash": [3, 5]},
     "encoding": {
       "x": {"field": "T", "type": "quantitative", "scale": {"domain": [474, 839], "nice": false, "zero": false}, "axis": {"values": [550, 650, 750], "labels": false, "tickSize": 3.5, "orient": "bottom", "title": null}},
       "y": {"field": "v", "type": "quantitative", "scale": {"domain": [-0.05, 0.35], "nice": false, "zero": false}, "axis": {"values": [0.05, 0.15, 0.25], "labels": false, "tickSize": 3, "orient": "left", "title": null}}}},
    {"data": {"name": "lines"}, "transform": [{"filter": "datum.p=='d' && datum.m=='P'"}],
     "mark": {"type": "line", "interpolate": "monotone", "color": "black", "strokeWidth": 2.8},
     "encoding": {
       "x": {"field": "T", "type": "quantitative", "scale": {"domain": [474, 839], "nice": false, "zero": false}, "axis": {"values": [500, 600, 700, 800], "labels": false, "tickSize": 6, "orient": "bottom", "title": null}},
       "y": {"field": "v", "type": "quantitative", "scale": {"domain": [-0.05, 0.35], "nice": false, "zero": false}, "axis": {"values": [0, 0.1, 0.2, 0.3], "format": ".1f", "tickSize": 5, "orient": "left", "title": null}}}},
    {"data": {"name": "exp"}, "transform": [{"filter": "datum.p=='d' && isValid(datum.lo)"}],
     "mark": {"type": "rule", "strokeWidth": 1.3},
     "encoding": {"y": {"field": "lo", "type": "quantitative", "scale": {"domain": [-0.05, 0.35], "nice": false, "zero": false}, "axis": null}, "y2": {"field": "hi"},
       "color": {"condition": {"test": "datum.k=='G'", "value": "#0000ff"}, "value": "#ff0000"}}},
    {"data": {"name": "exp"}, "transform": [{"filter": "datum.p=='d' && isValid(datum.lo)"}],
     "mark": {"type": "tick", "orient": "horizontal", "size": 12, "thickness": 1.3},
     "encoding": {"y": {"field": "lo", "type": "quantitative", "scale": {"domain": [-0.05, 0.35], "nice": false, "zero": false}, "axis": null},
       "color": {"condition": {"test": "datum.k=='G'", "value": "#0000ff"}, "value": "#ff0000"}}},
    {"data": {"name": "exp"}, "transform": [{"filter": "datum.p=='d' && isValid(datum.hi)"}],
     "mark": {"type": "tick", "orient": "horizontal", "size": 12, "thickness": 1.3},
     "encoding": {"y": {"field": "hi", "type": "quantitative", "scale": {"domain": [-0.05, 0.35], "nice": false, "zero": false}, "axis": null},
       "color": {"condition": {"test": "datum.k=='G'", "value": "#0000ff"}, "value": "#ff0000"}}},
    {"data": {"name": "exp"}, "transform": [{"filter": "datum.p=='d'"}],
     "mark": {"type": "point", "filled": false, "strokeWidth": 2.5, "opacity": 1},
     "encoding": {
       "color": {"condition": {"test": "datum.k=='G'", "value": "#0000ff"}, "value": "#ff0000"},
       "shape": {"condition": {"test": "datum.k=='G'", "value": "circle"}, "value": "triangle-up"},
       "size": {"condition": {"test": "datum.k=='G'", "value": 100}, "value": 190}}},
    {"data": {"name": "leg"},
     "mark": {"type": "point", "filled": false, "strokeWidth": 2.5, "opacity": 1},
     "encoding": {
       "color": {"field": "s", "type": "nominal",
         "scale": {"domain": ["GC", "SVUV-PIMS", "NUIGMech1.2", "Present work"], "range": ["#0000ff", "#ff0000", "#000000", "#000000"]},
         "legend": {"orient": "none", "legendX": 157, "legendY": 41, "title": null, "padding": 0, "labelFont": "Liberation Serif", "labelFontSize": 15.5, "labelFontWeight": "bold", "labelColor": "black", "labelLimit": 300, "symbolStrokeWidth": 2.5, "symbolSize": 100, "labelOffset": 19, "rowPadding": 2.5}},
       "shape": {"field": "s", "type": "nominal",
         "scale": {"domain": ["GC", "SVUV-PIMS", "NUIGMech1.2", "Present work"], "range": ["circle", "M0,-1.2L1.4,1.2L-1.4,1.2Z", "M-4,0H4", "M-4,0H4"]},
         "legend": {"orient": "none", "legendX": 157, "legendY": 41, "title": null, "padding": 0, "labelFont": "Liberation Serif", "labelFontSize": 15.5, "labelFontWeight": "bold", "labelColor": "black", "labelLimit": 300, "symbolStrokeWidth": 2.5, "symbolSize": 100, "labelOffset": 19, "rowPadding": 2.5}},
       "strokeDash": {"field": "s", "type": "nominal",
         "scale": {"domain": ["GC", "SVUV-PIMS", "NUIGMech1.2", "Present work"], "range": [[1, 0], [1, 0], [3, 5], [1, 0]]},
         "legend": {"orient": "none", "legendX": 157, "legendY": 41, "title": null, "padding": 0, "labelFont": "Liberation Serif", "labelFontSize": 15.5, "labelFontWeight": "bold", "labelColor": "black", "labelLimit": 300, "symbolStrokeWidth": 2.5, "symbolSize": 100, "labelOffset": 19, "rowPadding": 2.5}}}}
  ]
},
{
  "width": 301, "height": 225,
  "title": {"text": "(e) Formic acid", "dy": 33},
  "resolve": {"axis": {"x": "independent", "y": "independent"}},
  "encoding": {
    "x": {"field": "T", "type": "quantitative", "scale": {"domain": [474, 850], "nice": false, "zero": false}, "axis": null},
    "y": {"field": "v", "type": "quantitative", "scale": {"domain": [-0.5, 3.5], "nice": false, "zero": false}, "axis": null}
  },
  "layer": [
    {"data": {"name": "lines"}, "transform": [{"filter": "datum.p=='e' && datum.m=='N'"}],
     "mark": {"type": "line", "interpolate": "monotone", "color": "black", "strokeWidth": 3, "strokeDash": [3, 5]},
     "encoding": {
       "x": {"field": "T", "type": "quantitative", "scale": {"domain": [474, 850], "nice": false, "zero": false}, "axis": {"values": [550, 650, 750], "labels": false, "tickSize": 3.5, "orient": "bottom", "title": null}},
       "y": {"field": "v", "type": "quantitative", "scale": {"domain": [-0.5, 3.5], "nice": false, "zero": false}, "axis": {"values": [0.5, 1.5, 2.5], "labels": false, "tickSize": 3, "orient": "left", "title": null}}}},
    {"data": {"name": "lines"}, "transform": [{"filter": "datum.p=='e' && datum.m=='P'"}],
     "mark": {"type": "line", "interpolate": "monotone", "color": "black", "strokeWidth": 2.8},
     "encoding": {
       "x": {"field": "T", "type": "quantitative", "scale": {"domain": [474, 850], "nice": false, "zero": false}, "axis": {"values": [500, 600, 700, 800], "format": "d", "tickSize": 6, "orient": "bottom", "title": "Temperature (K)", "titleX": 340, "titleY": 64, "titleAlign": "center", "titleBaseline": "alphabetic", "titleAngle": 0}},
       "y": {"field": "v", "type": "quantitative", "scale": {"domain": [-0.5, 3.5], "nice": false, "zero": false}, "axis": {"values": [0, 1, 2, 3], "format": "d", "tickSize": 5, "orient": "left", "title": null}}}},
    {"data": {"name": "exp"}, "transform": [{"filter": "datum.p=='e' && isValid(datum.lo)"}],
     "mark": {"type": "rule", "strokeWidth": 1.3},
     "encoding": {"y": {"field": "lo", "type": "quantitative", "scale": {"domain": [-0.5, 3.5], "nice": false, "zero": false}, "axis": null}, "y2": {"field": "hi"},
       "color": {"condition": {"test": "datum.k=='G'", "value": "#0000ff"}, "value": "#ff0000"}}},
    {"data": {"name": "exp"}, "transform": [{"filter": "datum.p=='e' && isValid(datum.lo)"}],
     "mark": {"type": "tick", "orient": "horizontal", "size": 12, "thickness": 1.3},
     "encoding": {"y": {"field": "lo", "type": "quantitative", "scale": {"domain": [-0.5, 3.5], "nice": false, "zero": false}, "axis": null},
       "color": {"condition": {"test": "datum.k=='G'", "value": "#0000ff"}, "value": "#ff0000"}}},
    {"data": {"name": "exp"}, "transform": [{"filter": "datum.p=='e' && isValid(datum.hi)"}],
     "mark": {"type": "tick", "orient": "horizontal", "size": 12, "thickness": 1.3},
     "encoding": {"y": {"field": "hi", "type": "quantitative", "scale": {"domain": [-0.5, 3.5], "nice": false, "zero": false}, "axis": null},
       "color": {"condition": {"test": "datum.k=='G'", "value": "#0000ff"}, "value": "#ff0000"}}},
    {"data": {"name": "exp"}, "transform": [{"filter": "datum.p=='e'"}],
     "mark": {"type": "point", "filled": false, "strokeWidth": 2.5, "opacity": 1},
     "encoding": {
       "color": {"condition": {"test": "datum.k=='G'", "value": "#0000ff"}, "value": "#ff0000"},
       "shape": {"condition": {"test": "datum.k=='G'", "value": "circle"}, "value": "triangle-up"},
       "size": {"condition": {"test": "datum.k=='G'", "value": 100}, "value": 190}}}
  ]
},
{
  "width": 291, "height": 225,
  "title": {"text": "(f) Acetic acid", "dy": 36},
  "resolve": {"axis": {"x": "independent", "y": "independent"}},
  "encoding": {
    "x": {"field": "T", "type": "quantitative", "scale": {"domain": [474, 839], "nice": false, "zero": false}, "axis": null},
    "y": {"field": "v", "type": "quantitative", "scale": {"domain": [-0.05, 0.35], "nice": false, "zero": false}, "axis": null}
  },
  "layer": [
    {"data": {"name": "lines"}, "transform": [{"filter": "datum.p=='f' && datum.m=='N'"}],
     "mark": {"type": "line", "interpolate": "monotone", "color": "black", "strokeWidth": 3, "strokeDash": [3, 5]},
     "encoding": {
       "x": {"field": "T", "type": "quantitative", "scale": {"domain": [474, 839], "nice": false, "zero": false}, "axis": {"values": [550, 650, 750], "labels": false, "tickSize": 3.5, "orient": "bottom", "title": null}},
       "y": {"field": "v", "type": "quantitative", "scale": {"domain": [-0.05, 0.35], "nice": false, "zero": false}, "axis": {"values": [0.05, 0.15, 0.25], "labels": false, "tickSize": 3, "orient": "left", "title": null}}}},
    {"data": {"name": "lines"}, "transform": [{"filter": "datum.p=='f' && datum.m=='P'"}],
     "mark": {"type": "line", "interpolate": "monotone", "color": "black", "strokeWidth": 2.8},
     "encoding": {
       "x": {"field": "T", "type": "quantitative", "scale": {"domain": [474, 839], "nice": false, "zero": false}, "axis": {"values": [500, 600, 700, 800], "format": "d", "tickSize": 6, "orient": "bottom", "title": null}},
       "y": {"field": "v", "type": "quantitative", "scale": {"domain": [-0.05, 0.35], "nice": false, "zero": false}, "axis": {"values": [0, 0.1, 0.2, 0.3], "format": ".1f", "tickSize": 5, "orient": "left", "title": null}}}},
    {"data": {"name": "exp"}, "transform": [{"filter": "datum.p=='f' && isValid(datum.lo)"}],
     "mark": {"type": "rule", "strokeWidth": 1.3},
     "encoding": {"y": {"field": "lo", "type": "quantitative", "scale": {"domain": [-0.05, 0.35], "nice": false, "zero": false}, "axis": null}, "y2": {"field": "hi"},
       "color": {"condition": {"test": "datum.k=='G'", "value": "#0000ff"}, "value": "#ff0000"}}},
    {"data": {"name": "exp"}, "transform": [{"filter": "datum.p=='f' && isValid(datum.lo)"}],
     "mark": {"type": "tick", "orient": "horizontal", "size": 12, "thickness": 1.3},
     "encoding": {"y": {"field": "lo", "type": "quantitative", "scale": {"domain": [-0.05, 0.35], "nice": false, "zero": false}, "axis": null},
       "color": {"condition": {"test": "datum.k=='G'", "value": "#0000ff"}, "value": "#ff0000"}}},
    {"data": {"name": "exp"}, "transform": [{"filter": "datum.p=='f' && isValid(datum.hi)"}],
     "mark": {"type": "tick", "orient": "horizontal", "size": 12, "thickness": 1.3},
     "encoding": {"y": {"field": "hi", "type": "quantitative", "scale": {"domain": [-0.05, 0.35], "nice": false, "zero": false}, "axis": null},
       "color": {"condition": {"test": "datum.k=='G'", "value": "#0000ff"}, "value": "#ff0000"}}},
    {"data": {"name": "exp"}, "transform": [{"filter": "datum.p=='f'"}],
     "mark": {"type": "point", "filled": false, "strokeWidth": 2.5, "opacity": 1},
     "encoding": {
       "color": {"condition": {"test": "datum.k=='G'", "value": "#0000ff"}, "value": "#ff0000"},
       "shape": {"condition": {"test": "datum.k=='G'", "value": "circle"}, "value": "triangle-up"},
       "size": {"condition": {"test": "datum.k=='G'", "value": 100}, "value": 190}}}
  ]
}
]
}
